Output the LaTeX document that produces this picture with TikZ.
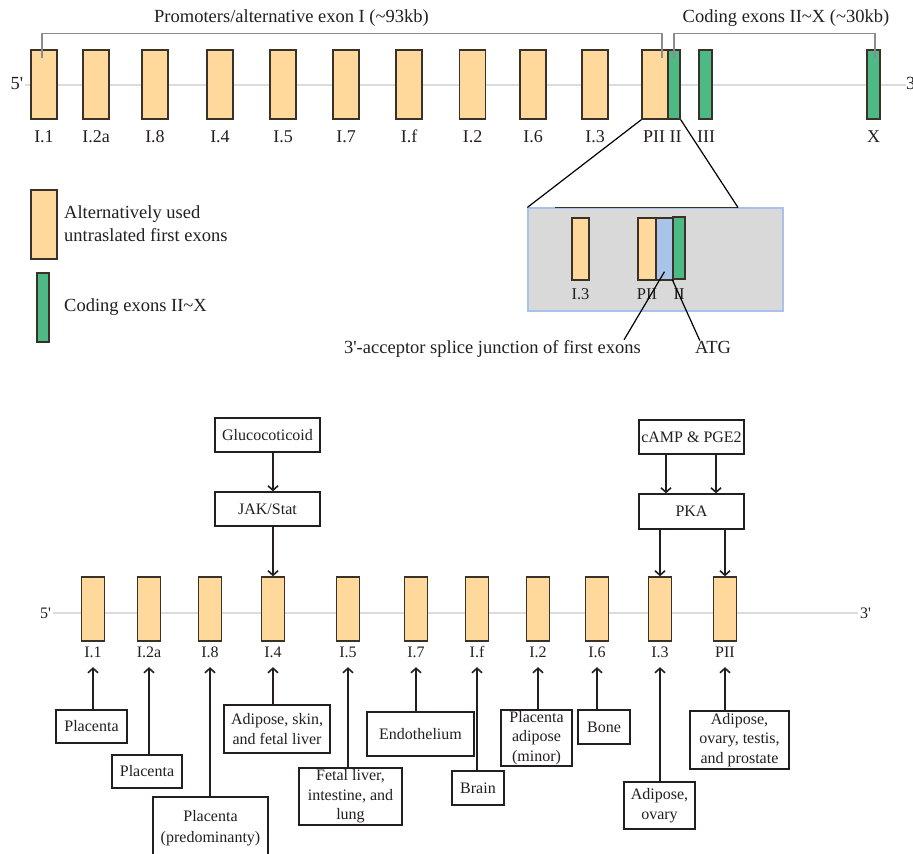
\documentclass[tikz,border=0pt]{standalone}
\usepackage{fontspec}
\setmainfont{Liberation Serif}
\usetikzlibrary{arrows.meta,calc,backgrounds}
\definecolor{orx}{HTML}{FFD99B}
\definecolor{grx}{HTML}{4DBA85}
\definecolor{blx}{HTML}{A9C4E8}
\definecolor{edg}{HTML}{3A3128}
\definecolor{txt}{HTML}{231F20}
\definecolor{zfill}{HTML}{D9D9D9}
\definecolor{zedge}{HTML}{A8C2EA}
\definecolor{bline}{HTML}{DCDCDC}
\definecolor{brk}{HTML}{8C8C8C}
\newcommand\myTop{\fontsize{18.5}{24}\selectfont}
\newcommand\myLab{\fontsize{18}{22}\selectfont}
\newcommand\myBot{\fontsize{16}{19.5}\selectfont}
\newcommand\myZ{\fontsize{16.5}{20}\selectfont}
\begin{document}
\begin{tikzpicture}[x=1pt,y=-1pt,
 ex/.style={rectangle,draw=edg,line width=1.4pt,inner sep=0pt},
 orex/.style={ex,fill=orx},
 grex/.style={ex,fill=grx},
 blex/.style={ex,fill=blx},
 topex/.style={minimum width=26pt,minimum height=69pt},
 botex/.style={orex,minimum width=23pt,minimum height=64pt},
 tlab/.style={anchor=base,inner sep=0pt,font=\myLab,text=txt},
 zlab/.style={anchor=base,inner sep=0pt,font=\myZ,text=txt},
 blab/.style={anchor=base,font=\myBot,text=txt,inner xsep=1pt,inner ysep=6.5pt,text depth=3pt},
 ttxt/.style={font=\myTop,text=txt,inner sep=0pt},
 tbox/.style={draw=txt,line width=1.3pt,fill=white,font=\myBot,align=center,inner sep=1pt,text=txt},
 arr/.style={draw=txt,line width=1.6pt,-{Straight Barb[length=4.5pt,width=10pt]}},
 brack/.style={draw=brk,line width=1.5pt},
 axis/.style={draw=bline,line width=2pt},
 pline/.style={draw=black,line width=1.2pt}
]
\clip (0,0) rectangle (913,854);
\useasboundingbox (0,0) rectangle (913,854);

% ---------- top gene ----------
\node[ttxt,anchor=base] (p5t) at (17,89.5) {5\textquotesingle};
\node[ttxt,anchor=base west] (p3t) at (906,89.5) {3\textquotesingle};
\coordinate (at) at (0,85);

\foreach \n/\x in {1/44,2a/96,8/155,4/220,5/283,7/346,f/409,2/472.5,6/533,3/595,PII/655}
  \node[orex,topex] (te\n) at (\x,84.5) {};
\node[grex,minimum width=12pt,minimum height=69pt] (teII) at (674,84.5) {};
\node[grex,minimum width=13pt,minimum height=69pt] (teIII) at (705.5,84.5) {};
\node[grex,minimum width=13pt,minimum height=69pt] (teX) at (873.5,84.5) {};

\foreach \n/\x/\t in {1/44/I.1,2a/96/I.2a,8/155/I.8,4/220/I.4,5/283/I.5,7/346/I.7,f/409/I.f,2/472.5/I.2,6/533/I.6,3/595/I.3,PII/654/PII,II/675.5/II,III/706/III,X/873.5/X}
  \node[tlab] (tl\n) at (\x,142) {\t};

\node[ttxt,anchor=base] (title1) at (291.5,22.7) {Promoters/alternative exon I (\textasciitilde 93kb)};
\node[ttxt,anchor=base] (title2) at (786,22.7) {Coding exons II\textasciitilde X (\textasciitilde 30kb)};

\draw[brack] ([xshift=-2pt,yshift=-9pt]te1.north) -- ++(0,-25) -| ([xshift=7pt,yshift=-9pt]tePII.north);
\draw[brack] ([yshift=-9pt]teII.north) -- ++(0,-25) -| ([xshift=1.5pt,yshift=-9pt]teX.north);

% ---------- legend ----------
\node[orex,minimum width=26pt,minimum height=69pt] (leg1) at (44,224.5) {};
\node[grex,minimum width=12pt,minimum height=69pt] (leg2) at (43,307.5) {};
\node[ttxt,anchor=base west] (legt1) at (64,218.3) {Alternatively used};
\node[ttxt,anchor=base west] (legt1b) at (64,241.7) {untraslated first exons};
\node[ttxt,anchor=base west] (legt2) at (64,311.3) {Coding exons II\textasciitilde X};

% ---------- zoom box ----------
\node[draw=zedge,fill=zfill,line width=1.2pt,minimum width=255pt,minimum height=103pt,inner sep=0pt] (zbox) at (655.5,259.5) {};
\coordinate (zl) at (555,207.5);
\coordinate (zr) at (738,207.5);
\draw[draw=edg,line width=1.6pt] (zl) -- (zr);
\draw[pline] (tePII.south west) -- (zbox.north west);
\draw[pline] (teII.south east) -- (zr);

\node[orex,minimum width=17pt,minimum height=62pt] (zI3) at (580.5,249) {};
\node[orex,minimum width=18pt,minimum height=62pt] (zPII) at (647,249) {};
\node[blex,minimum width=17pt,minimum height=62pt] (zB) at (664.5,249) {};
\node[grex,minimum width=12pt,minimum height=62pt] (zII) at (679,248) {};
\node[zlab] (zlI3) at (580.5,299) {I.3};
\node[zlab] (zlPII) at (647,299) {PII};
\node[zlab] (zlII) at (679,299) {II};

\node[ttxt,anchor=base] (junc) at (492.5,353) {3\textquotesingle-acceptor splice junction of first exons};
\node[ttxt,anchor=base] (atg) at (713,353) {ATG};
\draw[pline] ([yshift=9pt]zB.south) -- ([xshift=-17pt]junc.north east);
\draw[pline] (zII.south west) -- ([xshift=5pt]atg.north west);

% ---------- bottom gene ----------
\node[font=\myBot,text=txt,inner sep=0pt,anchor=base] (p5b) at (45.5,618) {5\textquotesingle};
\node[font=\myBot,text=txt,inner sep=0pt,anchor=base] (p3b) at (865.5,618) {3\textquotesingle};
\coordinate (ab) at (0,613);

\foreach \n/\x in {1/93,2a/149,8/210,4/273,5/348,7/416,f/477,2/538,6/597,3/660,PII/725}
  \node[botex] (be\n) at (\x,609) {};
\foreach \n/\x/\t in {1/93/I.1,2a/149/I.2a,8/210/I.8,4/273/I.4,5/348/I.5,7/416/I.7,f/477/I.f,2/538/I.2,6/597/I.6,3/660/I.3,PII/725/PII}
  \node[blab] (bl\n) at (\x,657.5) {\t};

% regulators
\node[tbox,minimum width=105pt,minimum height=34pt] (gluc) at (267.5,435) {Glucocoticoid};
\node[tbox,minimum width=105pt,minimum height=34pt] (jak) at (267.5,509) {JAK/Stat};
\node[tbox,minimum width=105pt,minimum height=34pt] (camp) at (691.5,437) {cAMP \& PGE2};
\node[tbox,minimum width=105pt,minimum height=35pt] (pka) at (691.5,511.5) {PKA};
\draw[arr] (gluc.south -| be4) -- (jak.north -| be4);
\draw[arr] (jak.south -| be4) -- (be4.north);
\draw[arr] ([xshift=-25.5pt]camp.south) -- ([xshift=-25.5pt]pka.north);
\draw[arr] ([xshift=24.5pt]camp.south) -- ([xshift=24.5pt]pka.north);
\draw[arr] (pka.south -| be3) -- (be3.north);
\draw[arr] (pka.south -| bePII) -- (bePII.north);

% tissues
\node[tbox,minimum width=71pt,minimum height=33pt] (tpl1) at (91.5,726.5) {Placenta};
\node[tbox,minimum width=70pt,minimum height=33pt] (tpl2) at (147,771.5) {Placenta};
\node[tbox,minimum width=115pt,minimum height=62pt] (tpl3) at (210.5,828) {Placenta\\[1pt](predominanty)};
\node[tbox,minimum width=106pt,minimum height=48pt] (tadi) at (277,729) {Adipose, skin,\\and fetal liver};
\node[tbox,minimum width=103pt,minimum height=57pt] (tfet) at (350.5,796.5) {Fetal liver,\\intestine, and\\lung};
\node[tbox,minimum width=107pt,minimum height=44pt] (tend) at (420.5,734) {Endothelium};
\node[tbox,minimum width=52pt,minimum height=34pt] (tbra) at (478,788) {Brain};
\node[tbox,minimum width=71pt,minimum height=56pt] (tpla) at (536.5,738) {Placenta\\adipose\\(minor)};
\node[tbox,minimum width=52pt,minimum height=34pt] (tbon) at (604,727) {Bone};
\node[tbox,minimum width=71pt,minimum height=47pt] (tao) at (659.5,805.5) {Adipose,\\ovary};
\node[tbox,minimum width=99pt,minimum height=58pt] (taot) at (739.5,740) {Adipose,\\ovary, testis,\\and prostate};

\foreach \t/\n in {tpl1/1,tpl2/2a,tpl3/8,tadi/4,tfet/5,tend/7,tbra/f,tpla/2,tbon/6,tao/3,taot/PII}
  \draw[arr] (\t.north -| be\n) -- (bl\n.south -| be\n);

% ---------- background ----------
\begin{scope}[on background layer]
\fill[white] (0,0) rectangle (913,854);
\draw[axis] ([xshift=2pt]p5t.east |- at) -- (p3t.west |- at);
\draw[axis] ([xshift=1.5pt]p5b.east |- ab) -- ([xshift=-1.5pt]p3b.west |- ab);
\end{scope}
\end{tikzpicture}
\end{document}
